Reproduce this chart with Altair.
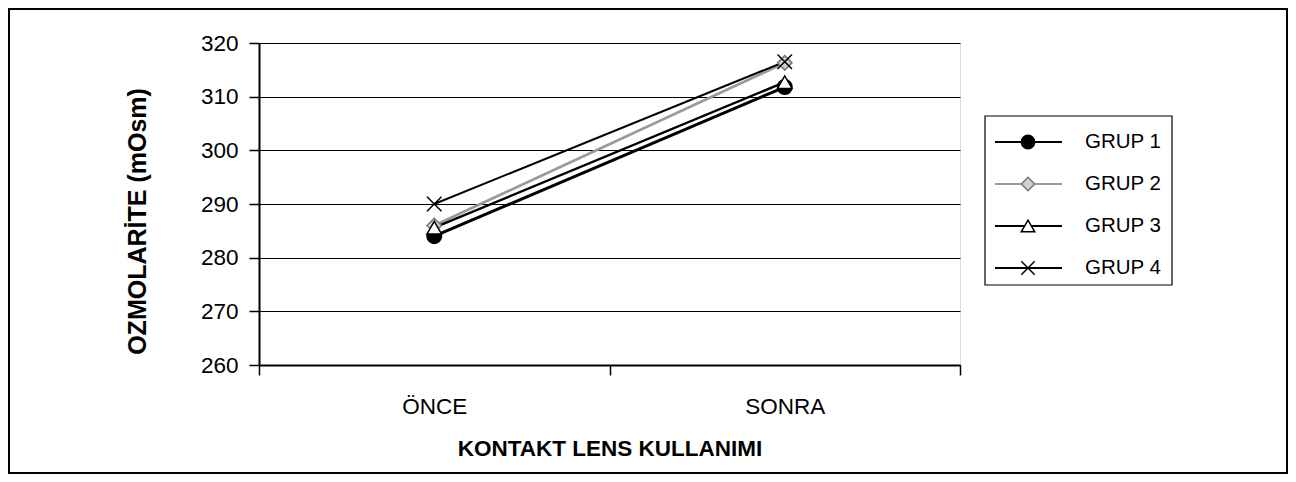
import altair as alt
import pandas as pd

groups = ["GRUP 1", "GRUP 2", "GRUP 3", "GRUP 4"]
periods = ["ÖNCE", "SONRA"]
grup1 = [284.0, 311.8]
grup2 = [286.0, 316.3]
grup3 = [285.6, 312.7]
grup4 = [290.0, 316.5]
y_ticks = [260, 270, 280, 290, 300, 310, 320]

line_colors = ["#000000", "#9a9a9a", "#000000", "#000000"]
line_widths = [3, 2, 3, 3]
shapes = ["circle", "diamond", "triangle-up", "M-1,-1L1,1M-1,1L1,-1"]
fills = ["#000000", "#d0d0d0", "#ffffff", "#000000"]
strokes = ["#000000", "#777777", "#000000", "#000000"]
leg_line_colors = ["#000000", "#444444", "#000000", "#000000"]

rows = []
for g, vals in zip(groups, [grup1, grup2, grup3, grup4]):
    for p, v in zip(periods, vals):
        rows.append({"grup": g, "donem": p, "deger": v})
df = pd.DataFrame(rows)
leg = pd.DataFrame({"grup": groups})
one = pd.DataFrame({"k": [0]})

FONT = "Liberation Sans"

x_enc = alt.X(
    "donem:N", sort=periods,
    scale=alt.Scale(type="band", domain=periods, paddingInner=0, paddingOuter=0),
    axis=alt.Axis(title="KONTAKT LENS KULLANIMI", labelAngle=0, tickBand="extent",
                  tickSize=10, labelPadding=20, labelFontSize=22.5, titleFontSize=22.5,
                  titleFontWeight="bold", titleY=90, titleBaseline="alphabetic",
                  domainColor="black", domainWidth=2, tickColor="black", tickWidth=1.5,
                  labelColor="black", titleColor="black", grid=False),
)
y_scale = alt.Scale(domain=[260, 320], nice=False, zero=False)
y_enc = alt.Y(
    "deger:Q", scale=y_scale,
    axis=alt.Axis(values=y_ticks, title="OZMOLARİTE (mOsm)", grid=True, gridColor="black",
                  gridWidth=1, tickSize=10, labelPadding=11, labelFontSize=22.5,
                  titleFontSize=25, titleFontWeight="bold", titleAngle=270, titleX=-122,
                  titleY=178, titleAlign="center", titleBaseline="middle",
                  domainColor="black", domainWidth=2, tickColor="black", tickWidth=1.5,
                  labelColor="black", titleColor="black"),
)
y_enc_noaxis = alt.Y("deger:Q", scale=y_scale, axis=None)

frame = alt.Chart(one).mark_rect(fill=None, stroke="black", strokeWidth=2).encode(
    x=alt.value(-250), x2=alt.value(1028), y=alt.value(-34), y2=alt.value(430)
)

lines = alt.Chart(df).mark_line().encode(
    x=x_enc, y=y_enc,
    color=alt.Color("grup:N", scale=alt.Scale(domain=groups, range=line_colors), legend=None),
    strokeWidth=alt.StrokeWidth("grup:N", scale=alt.Scale(domain=groups, range=line_widths), legend=None),
    detail="grup:N",
)

points = alt.Chart(df).mark_point(filled=True, size=210, strokeWidth=1.5, opacity=1).encode(
    x=x_enc, y=y_enc_noaxis,
    shape=alt.Shape("grup:N", scale=alt.Scale(domain=groups, range=shapes), legend=None),
    fill=alt.Fill("grup:N", scale=alt.Scale(domain=groups, range=fills), legend=None),
    stroke=alt.Stroke("grup:N", scale=alt.Scale(domain=groups, range=strokes), legend=None),
)

leg_y = alt.Y("grup:N", scale=alt.Scale(type="point", domain=groups, range=[99, 225], padding=0), axis=None)

leg_box = alt.Chart(one).mark_rect(fill="white", stroke="black", strokeWidth=1.2).encode(
    x=alt.value(726), x2=alt.value(913), y=alt.value(73), y2=alt.value(242)
)
leg_rules = alt.Chart(leg).mark_rule(strokeWidth=2).encode(
    x=alt.value(736), x2=alt.value(803), y=leg_y,
    color=alt.Color("grup:N", scale=alt.Scale(domain=groups, range=leg_line_colors), legend=None),
)
leg_points = alt.Chart(leg).mark_point(filled=True, size=180, strokeWidth=1.5, opacity=1).encode(
    x=alt.value(769), y=leg_y,
    shape=alt.Shape("grup:N", scale=alt.Scale(domain=groups, range=shapes), legend=None),
    fill=alt.Fill("grup:N", scale=alt.Scale(domain=groups, range=fills), legend=None),
    stroke=alt.Stroke("grup:N", scale=alt.Scale(domain=groups, range=strokes), legend=None),
)
leg_text = alt.Chart(leg).mark_text(align="left", baseline="middle", fontSize=20.5, font=FONT, color="black").encode(
    x=alt.value(826), y=leg_y, text="grup:N"
)

chart = alt.layer(frame, lines, points, leg_box, leg_rules, leg_points, leg_text).resolve_scale(
    y="independent"
).properties(
    width=701, height=322,
    padding={"left": 251, "top": 35, "right": 328, "bottom": 109},
    autosize=alt.AutoSizeParams(type="none"),
    background="white",
).configure_view(stroke="black", strokeWidth=2).configure(font=FONT)

chart.save("out.html", embed_options={"renderer": "svg", "actions": False})
